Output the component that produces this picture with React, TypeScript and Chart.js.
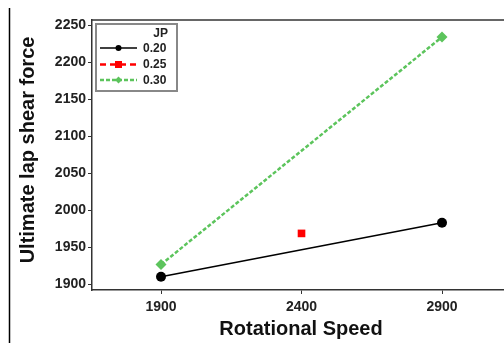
import React, { useEffect, useRef } from "react";
import { Chart, registerables } from "chart.js";

Chart.register(...registerables);

const speeds = [1900, 2400, 2900];
const jpLevels = ["0.20", "0.25", "0.30"];
const series020 = [1910, null, 1983];
const series025 = [null, 1968.5, null];
const series030 = [1926.5, null, 2234];
const xTicks = [1900, 2400, 2900];
const yTicks = [1900, 1950, 2000, 2050, 2100, 2150, 2200, 2250];

const FONT = "'Liberation Sans', Arial, sans-serif";

export default function App() {
  const ref = useRef<HTMLCanvasElement | null>(null);

  useEffect(() => {
    if (!ref.current) return;
    const toPts = (arr: (number | null)[]) =>
      speeds.map((s, i) => ({ x: s, y: arr[i] })).filter((p) => p.y !== null);

    const extras = {
      id: "extras",
      afterDraw(chart: any) {
        const ctx = chart.ctx;
        const ca = chart.chartArea;
        ctx.save();
        // page border line
        ctx.strokeStyle = "#000";
        ctx.lineWidth = 1.5;
        ctx.beginPath();
        ctx.moveTo(9.5, 8);
        ctx.lineTo(9.5, 343);
        ctx.stroke();
        // top border
        ctx.strokeStyle = "#333";
        ctx.lineWidth = 1.5;
        ctx.beginPath();
        ctx.moveTo(ca.left - 0.75, ca.top);
        ctx.lineTo(chart.width, ca.top);
        ctx.stroke();
        // axis titles
        ctx.fillStyle = "#111";
        ctx.font = `bold 20px ${FONT}`;
        ctx.textAlign = "center";
        ctx.textBaseline = "middle";
        ctx.fillText("Rotational Speed", 301, 329);
        ctx.save();
        ctx.translate(28, 150);
        ctx.rotate(-Math.PI / 2);
        ctx.fillText("Ultimate lap shear force", 0, 0);
        ctx.restore();
        // legend
        const lx = 96, ly = 24, lw = 81, lh = 67;
        ctx.fillStyle = "#fff";
        ctx.fillRect(lx, ly, lw, lh);
        ctx.strokeStyle = "#888";
        ctx.lineWidth = 2;
        ctx.strokeRect(lx, ly, lw, lh);
        ctx.fillStyle = "#222";
        ctx.font = `bold 12px ${FONT}`;
        ctx.textAlign = "right";
        ctx.fillText("JP", 168, 34);
        const rows = [48, 64.5, 80];
        chart.data.datasets.forEach((ds: any, i: number) => {
          const y = rows[i];
          ctx.save();
          ctx.strokeStyle = ds.borderColor;
          ctx.lineWidth = ds.borderWidth;
          ctx.setLineDash(ds.borderDash || []);
          ctx.beginPath();
          ctx.moveTo(100, y);
          ctx.lineTo(137, y);
          ctx.stroke();
          ctx.restore();
          const r = ds.legendRadius;
          ctx.fillStyle = ds.backgroundColor;
          ctx.beginPath();
          const cx = 118.5;
          if (ds.pointStyle === "circle") {
            ctx.arc(cx, y, r, 0, Math.PI * 2);
          } else if (ds.pointStyle === "rect") {
            ctx.rect(cx - r, y - r, 2 * r, 2 * r);
          } else {
            ctx.moveTo(cx, y - r);
            ctx.lineTo(cx + r, y);
            ctx.lineTo(cx, y + r);
            ctx.lineTo(cx - r, y);
            ctx.closePath();
          }
          ctx.fill();
          ctx.fillStyle = "#222";
          ctx.textAlign = "left";
          ctx.font = `bold 12px ${FONT}`;
          ctx.fillText(jpLevels[i], 143, y + 0.5);
        });
        ctx.restore();
      },
    };

    const chart = new Chart(ref.current, {
      type: "line",
      data: {
        datasets: [
          {
            label: jpLevels[0],
            data: toPts(series020) as any,
            borderColor: "#000",
            backgroundColor: "#000",
            borderWidth: 1.5,
            pointStyle: "circle",
            pointRadius: 5,
            pointBorderWidth: 0,
            legendRadius: 3,
          } as any,
          {
            label: jpLevels[1],
            data: toPts(series025) as any,
            borderColor: "#ff0000",
            backgroundColor: "#ff0000",
            borderWidth: 2.5,
            borderDash: [6, 4],
            pointStyle: "rect",
            pointRadius: 5.4,
            pointBorderWidth: 0,
            legendRadius: 3.5,
          } as any,
          {
            label: jpLevels[2],
            data: toPts(series030) as any,
            borderColor: "#5cc45c",
            backgroundColor: "#5cc45c",
            borderWidth: 2.5,
            borderDash: [4, 2],
            pointStyle: "rectRot",
            pointRadius: 5.5,
            pointBorderWidth: 0,
            legendRadius: 3.5,
          } as any,
        ],
      },
      options: {
        responsive: false,
        animation: false,
        events: [],
        layout: { autoPadding: false, padding: { top: 20, left: 0, right: 0, bottom: 0 } },
        plugins: { legend: { display: false }, tooltip: { enabled: false } },
        scales: {
          x: {
            type: "linear",
            min: 1654.4,
            max: 3120.6,
            afterBuildTicks: (s: any) => {
              s.ticks = xTicks.map((v) => ({ value: v }));
            },
            afterFit: (s: any) => {
              s.height = 53;
              s.paddingLeft = 0;
              s.paddingRight = 0;
            },
            ticks: {
              font: { family: FONT, size: 14, weight: "bold" },
              color: "#222",
              padding: 5,
              maxRotation: 0,
              callback: (v: any) => String(v),
            },
            grid: { drawOnChartArea: false, drawTicks: true, tickLength: 4, color: "#333", lineWidth: 1 },
            border: { display: true, color: "#333", width: 1.5 },
          },
          y: {
            type: "linear",
            min: 1892,
            max: 2257,
            afterBuildTicks: (s: any) => {
              s.ticks = yTicks.map((v) => ({ value: v }));
            },
            afterFit: (s: any) => {
              s.width = 92;
              s.paddingTop = 0;
              s.paddingBottom = 0;
            },
            ticks: {
              font: { family: FONT, size: 14, weight: "bold" },
              color: "#222",
              padding: 2,
              callback: (v: any) => String(v),
            },
            grid: { drawOnChartArea: false, drawTicks: true, tickLength: 4, color: "#333", lineWidth: 1 },
            border: { display: true, color: "#333", width: 1.5 },
          },
        },
      },
      plugins: [extras],
    });
    return () => chart.destroy();
  }, []);

  return (
    <div style={{ position: "fixed", left: 0, top: 0, width: 504, height: 343, background: "#fff" }}>
      <canvas ref={ref} width={504} height={343} style={{ display: "block" }} />
    </div>
  );
}
